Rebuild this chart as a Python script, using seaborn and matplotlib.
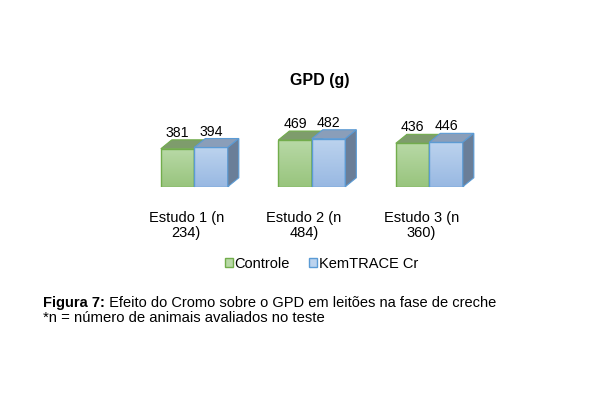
import numpy as np
import pandas as pd
import matplotlib
matplotlib.use("Agg")
import matplotlib.pyplot as plt
import seaborn as sns
from matplotlib.patches import Polygon, Patch
from matplotlib.transforms import blended_transform_factory

# ---- values ----
estudos = ["Estudo 1 (n\n234)", "Estudo 2 (n\n484)", "Estudo 3 (n\n360)"]
grupos = ["Controle", "KemTRACE Cr"]
gpd_controle = [381, 469, 436]
gpd_kemtrace = [394, 482, 446]

titulo = "GPD (g)"
fig_label = "Figura 7:"
fig_text = " Efeito do Cromo sobre o GPD em leitões na fase de creche"
fig_nota = "*n = número de animais avaliados no teste"

# colours of the fake 3d boxes
cores = {
    "Controle": dict(light="#b8d9a6", dark="#98c47d", edge="#72ad4c", top="#7e9c6c", side="#6f8a60"),
    "KemTRACE Cr": dict(light="#bcd3ee", dark="#98b8e2", edge="#5b9bd5", top="#8a9eb9", side="#6a7e98"),
}

DEPTH_X = 0.094   # box depth, in category units
DEPTH_Y = 90      # box depth, in g units
FS = 10.5

df = pd.DataFrame({
    "estudo": estudos * 2,
    "grupo": [grupos[0]] * len(estudos) + [grupos[1]] * len(estudos),
    "gpd": gpd_controle + gpd_kemtrace,
})

sns.set_style("white")
plt.rcParams["font.family"] = ["Liberation Sans", "DejaVu Sans"]
plt.rcParams["text.color"] = "black"

fig = plt.figure(figsize=(5.96, 4.08), dpi=100)
ax = fig.add_axes([0.2077, 0.5424, 0.6309, 0.1464])

sns.barplot(data=df, x="estudo", y="gpd", hue="grupo", order=estudos, hue_order=grupos,
            palette={g: cores[g]["light"] for g in grupos}, width=0.57, dodge=True,
            legend=False, errorbar=None, ax=ax)

#--- turn flat bars into boxes (gradient front, top face, side face)
grad = np.linspace(0, 1, 256).reshape(-1, 1)
for k, (grupo, cont) in enumerate(zip(grupos, ax.containers)):
    c = cores[grupo]
    cmap = matplotlib.colors.LinearSegmentedColormap.from_list(grupo, [c["dark"], c["light"]])
    base = 2 + k
    for bar in cont:
        x0, w, h = bar.get_x(), bar.get_width(), bar.get_height()
        bar.set_facecolor("none")
        bar.set_edgecolor(c["edge"])
        bar.set_linewidth(1.0)
        bar.set_zorder(base + 0.1)
        im = ax.imshow(grad, cmap=cmap, origin="lower", aspect="auto",
                       extent=(x0, x0 + w, 0, h), zorder=base, interpolation="bilinear")
        im.set_clip_path(bar)
        top = Polygon([(x0, h), (x0 + w, h), (x0 + w + DEPTH_X, h + DEPTH_Y), (x0 + DEPTH_X, h + DEPTH_Y)],
                      closed=True, facecolor=c["top"], edgecolor=c["edge"], linewidth=0.8,
                      zorder=base + 0.2, clip_on=False)
        ax.add_patch(top)
        side = Polygon([(x0 + w, 0), (x0 + w + DEPTH_X, DEPTH_Y), (x0 + w + DEPTH_X, h + DEPTH_Y), (x0 + w, h)],
                       closed=True, facecolor=c["side"], edgecolor=c["edge"], linewidth=0.8,
                       zorder=base + 0.05 if k == 0 else base + 0.2, clip_on=False)
        ax.add_patch(side)
        ax.text(x0 + w / 2, h + DEPTH_Y, f"{h:.0f}", ha="center", va="bottom",
                fontsize=10.2, zorder=10, clip_on=False)

ax.set_xlim(-0.6, 2.6)
ax.set_ylim(0, 600)
ax.axis("off")

# category labels (sit a bit left of the box fronts, like the original)
trans = blended_transform_factory(ax.transData, fig.transFigure)
for i, lab in enumerate(estudos):
    ax.text(i - 0.068, 0.483, lab, transform=trans, ha="center", va="top",
            fontsize=FS, linespacing=1.1)

fig.text(0.537, 1 - 85.5 / 408, titulo, ha="center", va="baseline", fontsize=11.5, fontweight="bold")

handles = [Patch(facecolor=cores[g]["light"], edgecolor=cores[g]["edge"], linewidth=1.0) for g in grupos]
fig.legend(handles=handles, labels=grupos, loc="center", bbox_to_anchor=(0.539, 1 - 264 / 408),
           ncol=2, frameon=False, fontsize=FS, handlelength=0.58, handleheight=0.58,
           handletextpad=0.1, columnspacing=1.3, borderpad=0, borderaxespad=0)

# caption under the chart
t1 = fig.text(0.0716, 1 - 307 / 408, fig_label, ha="left", va="baseline", fontsize=10.5, fontweight="bold")
ax.annotate(fig_text, xy=(1, 0), xycoords=t1, ha="left", va="bottom", fontsize=10.5, annotation_clip=False)
fig.text(0.0716, 1 - 321.5 / 408, fig_nota, ha="left", va="baseline", fontsize=10.7)

fig.savefig("out.png", dpi=100)
